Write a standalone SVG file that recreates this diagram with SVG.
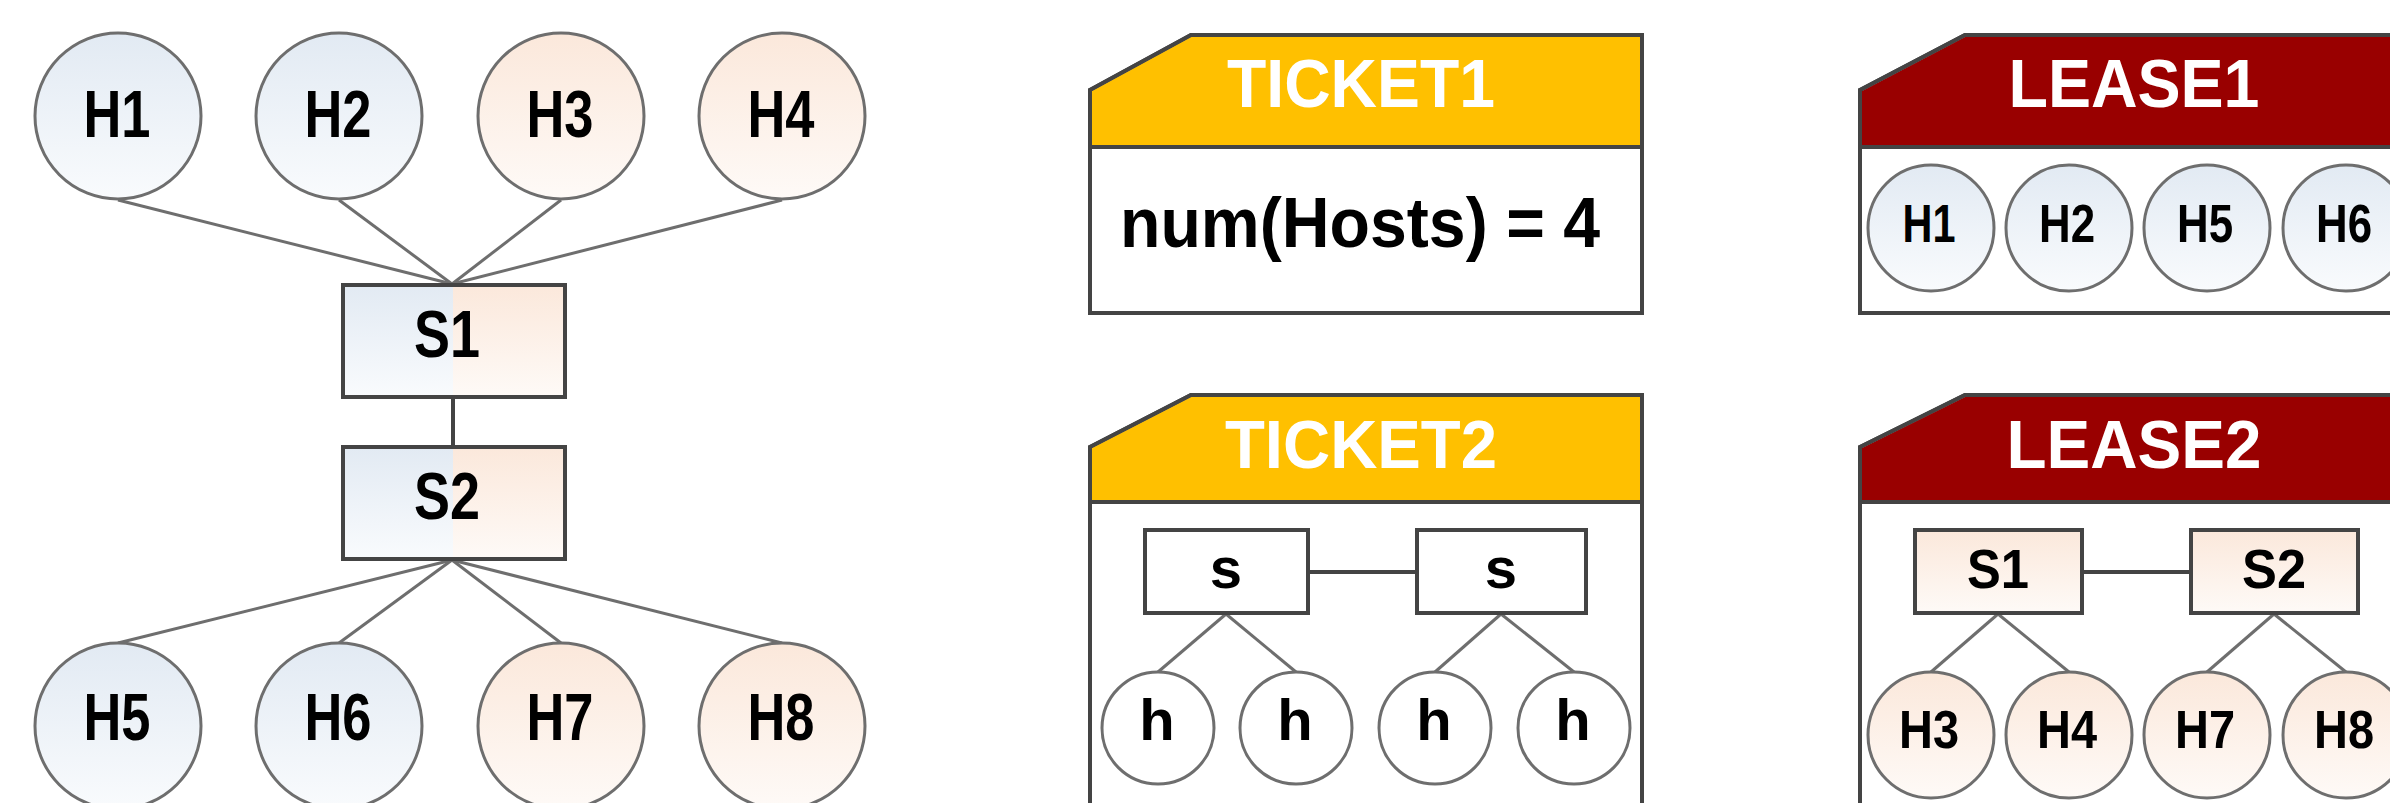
<svg xmlns="http://www.w3.org/2000/svg" width="2390" height="803" viewBox="0 0 2390 803">
<defs>
<linearGradient id="gb" x1="0" y1="0" x2="0" y2="1"><stop offset="0" stop-color="#e2eaf3"/><stop offset="1" stop-color="#f9fbfd"/></linearGradient>
<linearGradient id="gp" x1="0" y1="0" x2="0" y2="1"><stop offset="0" stop-color="#fbe8db"/><stop offset="1" stop-color="#fefaf7"/></linearGradient>
<style>
.hc{stroke:#6e6e6e;stroke-width:3}
.blue{fill:url(#gb)}
.peach{fill:url(#gp)}
.box{stroke:#444;stroke-width:4}
.edge{stroke:#6e6e6e;stroke-width:3;fill:none}
.bedge{stroke:#444;stroke-width:4;fill:none}
.lbl{font-family:"Liberation Sans",Arial,sans-serif;font-weight:bold;fill:#000;text-anchor:middle}
.big{font-size:66px}
.mid{font-size:54px}
.hdr{font-family:"Liberation Sans",Arial,sans-serif;font-weight:bold;font-size:68px;fill:#fff;text-anchor:middle}
.frame{fill:#fff;stroke:#444;stroke-width:4}
.tk{fill:#ffc000}
.ls{fill:#990000}
</style>
</defs>

<g id="connectors">
<line class="edge" x1="118" y1="200" x2="452" y2="284"/>
<line class="edge" x1="339" y1="200" x2="452" y2="284"/>
<line class="edge" x1="561" y1="200" x2="452" y2="284"/>
<line class="edge" x1="782" y1="200" x2="452" y2="284"/>
<line class="bedge" x1="453" y1="397" x2="453" y2="447"/>
<line class="edge" x1="452" y1="560" x2="118" y2="643"/>
<line class="edge" x1="452" y1="560" x2="339" y2="643"/>
<line class="edge" x1="452" y1="560" x2="561" y2="643"/>
<line class="edge" x1="452" y1="560" x2="782" y2="643"/>
</g>

<g id="H1"><circle class="hc blue" cx="118" cy="116" r="83"/><text class="lbl big" x="117" y="137" textLength="67" lengthAdjust="spacingAndGlyphs">H1</text></g>
<g id="H2"><circle class="hc blue" cx="339" cy="116" r="83"/><text class="lbl big" x="338" y="137" textLength="67" lengthAdjust="spacingAndGlyphs">H2</text></g>
<g id="H3"><circle class="hc peach" cx="561" cy="116" r="83"/><text class="lbl big" x="560" y="137" textLength="67" lengthAdjust="spacingAndGlyphs">H3</text></g>
<g id="H4"><circle class="hc peach" cx="782" cy="116" r="83"/><text class="lbl big" x="781" y="137" textLength="67" lengthAdjust="spacingAndGlyphs">H4</text></g>

<g id="S1">
<rect x="343" y="285" width="110" height="112" class="blue"/>
<rect x="453" y="285" width="112" height="112" class="peach"/>
<rect x="343" y="285" width="222" height="112" class="box" fill="none"/>
<text class="lbl big" x="447" y="357" textLength="66" lengthAdjust="spacingAndGlyphs">S1</text>
</g>
<g id="S2">
<rect x="343" y="447" width="110" height="112" class="blue"/>
<rect x="453" y="447" width="112" height="112" class="peach"/>
<rect x="343" y="447" width="222" height="112" class="box" fill="none"/>
<text class="lbl big" x="447" y="519" textLength="66" lengthAdjust="spacingAndGlyphs">S2</text>
</g>

<g id="H5"><circle class="hc blue" cx="118" cy="726" r="83"/><text class="lbl big" x="117" y="740" textLength="67" lengthAdjust="spacingAndGlyphs">H5</text></g>
<g id="H6"><circle class="hc blue" cx="339" cy="726" r="83"/><text class="lbl big" x="338" y="740" textLength="67" lengthAdjust="spacingAndGlyphs">H6</text></g>
<g id="H7"><circle class="hc peach" cx="561" cy="726" r="83"/><text class="lbl big" x="560" y="740" textLength="67" lengthAdjust="spacingAndGlyphs">H7</text></g>
<g id="H8"><circle class="hc peach" cx="782" cy="726" r="83"/><text class="lbl big" x="781" y="740" textLength="67" lengthAdjust="spacingAndGlyphs">H8</text></g>

<g id="TICKET1">
<path class="frame" d="M1090,90 L1191,35 L1642,35 L1642,313 L1090,313 Z"/>
<path class="tk" d="M1092,91 L1191,37 L1640,37 L1640,147 L1092,147 Z"/>
<path class="bedge" d="M1090,90 L1191,35 L1642,35 L1642,313 L1090,313 Z M1090,147 L1642,147"/>
<text class="hdr" x="1361" y="107" textLength="268" lengthAdjust="spacingAndGlyphs">TICKET1</text>
<text class="lbl" style="font-size:70px" x="1360" y="247" textLength="480" lengthAdjust="spacingAndGlyphs">num(Hosts) = 4</text>
</g>

<g id="TICKET2">
<path class="frame" d="M1090,447 L1191,395 L1642,395 L1642,830 L1090,830 Z"/>
<path class="tk" d="M1092,448 L1191,397 L1640,397 L1640,502 L1092,502 Z"/>
<path class="bedge" d="M1090,447 L1191,395 L1642,395 L1642,830 L1090,830 Z M1090,502 L1642,502"/>
<text class="hdr" x="1361" y="468" textLength="272" lengthAdjust="spacingAndGlyphs">TICKET2</text>
<g id="t2-edges">
<line class="bedge" x1="1308" y1="572" x2="1417" y2="572"/>
<line class="edge" x1="1226" y1="614" x2="1158" y2="672"/>
<line class="edge" x1="1226" y1="614" x2="1296" y2="672"/>
<line class="edge" x1="1501" y1="614" x2="1435" y2="672"/>
<line class="edge" x1="1501" y1="614" x2="1574" y2="672"/>
</g>
<g id="t2-s1"><rect class="box" fill="#fff" x="1145" y="530" width="163" height="83"/><text class="lbl" style="font-size:58px" x="1226" y="588">s</text></g>
<g id="t2-s2"><rect class="box" fill="#fff" x="1417" y="530" width="169" height="83"/><text class="lbl" style="font-size:58px" x="1501" y="588">s</text></g>
<g id="t2-h1"><circle class="hc" fill="#fff" cx="1158" cy="728" r="56"/><text class="lbl" style="font-size:58px" x="1157" y="740">h</text></g>
<g id="t2-h2"><circle class="hc" fill="#fff" cx="1296" cy="728" r="56"/><text class="lbl" style="font-size:58px" x="1295" y="740">h</text></g>
<g id="t2-h3"><circle class="hc" fill="#fff" cx="1435" cy="728" r="56"/><text class="lbl" style="font-size:58px" x="1434" y="740">h</text></g>
<g id="t2-h4"><circle class="hc" fill="#fff" cx="1574" cy="728" r="56"/><text class="lbl" style="font-size:58px" x="1573" y="740">h</text></g>
</g>

<g id="LEASE1">
<path class="frame" d="M1860,90 L1965,35 L2412,35 L2412,313 L1860,313 Z"/>
<path class="ls" d="M1862,91 L1965,37 L2410,37 L2410,147 L1862,147 Z"/>
<path class="bedge" d="M1860,90 L1965,35 L2412,35 L2412,313 L1860,313 Z M1860,147 L2412,147"/>
<text class="hdr" x="2134" y="107" textLength="251" lengthAdjust="spacingAndGlyphs">LEASE1</text>
<g id="l1-H1"><circle class="hc blue" cx="1931" cy="228" r="63"/><text class="lbl mid" x="1929" y="242" textLength="53" lengthAdjust="spacingAndGlyphs">H1</text></g>
<g id="l1-H2"><circle class="hc blue" cx="2069" cy="228" r="63"/><text class="lbl mid" x="2067" y="242" textLength="56" lengthAdjust="spacingAndGlyphs">H2</text></g>
<g id="l1-H5"><circle class="hc blue" cx="2207" cy="228" r="63"/><text class="lbl mid" x="2205" y="242" textLength="56" lengthAdjust="spacingAndGlyphs">H5</text></g>
<g id="l1-H6"><circle class="hc blue" cx="2346" cy="228" r="63"/><text class="lbl mid" x="2344" y="242" textLength="56" lengthAdjust="spacingAndGlyphs">H6</text></g>
</g>

<g id="LEASE2">
<path class="frame" d="M1860,447 L1965,395 L2412,395 L2412,830 L1860,830 Z"/>
<path class="ls" d="M1862,448 L1965,397 L2410,397 L2410,502 L1862,502 Z"/>
<path class="bedge" d="M1860,447 L1965,395 L2412,395 L2412,830 L1860,830 Z M1860,502 L2412,502"/>
<text class="hdr" x="2134" y="468" textLength="255" lengthAdjust="spacingAndGlyphs">LEASE2</text>
<g id="l2-edges">
<line class="bedge" x1="2082" y1="572" x2="2191" y2="572"/>
<line class="edge" x1="1998" y1="614" x2="1931" y2="672"/>
<line class="edge" x1="1998" y1="614" x2="2069" y2="672"/>
<line class="edge" x1="2274" y1="614" x2="2207" y2="672"/>
<line class="edge" x1="2274" y1="614" x2="2346" y2="672"/>
</g>
<g id="l2-S1"><rect class="box peach" x="1915" y="530" width="167" height="83"/><text class="lbl" style="font-size:56px" x="1998" y="588" textLength="62" lengthAdjust="spacingAndGlyphs">S1</text></g>
<g id="l2-S2"><rect class="box peach" x="2191" y="530" width="167" height="83"/><text class="lbl" style="font-size:56px" x="2274" y="588" textLength="64" lengthAdjust="spacingAndGlyphs">S2</text></g>
<g id="l2-H3"><circle class="hc peach" cx="1931" cy="735" r="63"/><text class="lbl mid" x="1929" y="748" textLength="60" lengthAdjust="spacingAndGlyphs">H3</text></g>
<g id="l2-H4"><circle class="hc peach" cx="2069" cy="735" r="63"/><text class="lbl mid" x="2067" y="748" textLength="60" lengthAdjust="spacingAndGlyphs">H4</text></g>
<g id="l2-H7"><circle class="hc peach" cx="2207" cy="735" r="63"/><text class="lbl mid" x="2205" y="748" textLength="60" lengthAdjust="spacingAndGlyphs">H7</text></g>
<g id="l2-H8"><circle class="hc peach" cx="2346" cy="735" r="63"/><text class="lbl mid" x="2344" y="748" textLength="60" lengthAdjust="spacingAndGlyphs">H8</text></g>
</g>
</svg>
